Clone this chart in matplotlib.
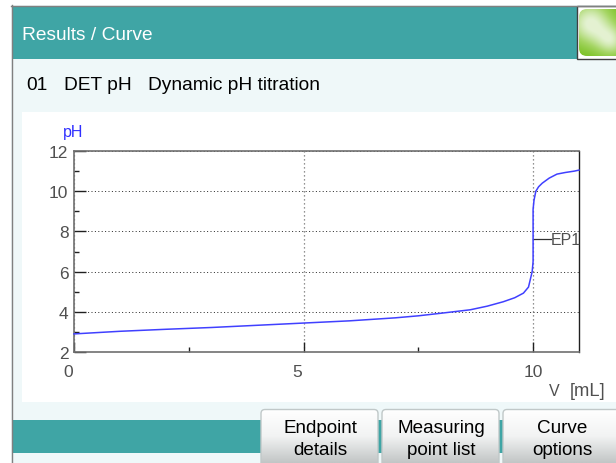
import matplotlib
matplotlib.use('Agg')
import matplotlib.pyplot as plt
from matplotlib.patches import Rectangle, FancyBboxPatch
from matplotlib.colors import LinearSegmentedColormap
from matplotlib.transforms import ScaledTranslation
import numpy as np

W, H = 616, 464

# curve
volume = [0, 1, 2, 3, 4, 5, 6, 7, 7.5, 8, 8.63, 9, 9.35, 9.6, 9.79, 9.9, 9.98, 10.0, 10.0, 10.02, 10.06, 10.12, 10.2, 10.35, 10.52, 10.7, 10.9, 11.0]
ph = [2.9, 3.03, 3.13, 3.22, 3.33, 3.44, 3.55, 3.7, 3.8, 3.93, 4.1, 4.28, 4.5, 4.7, 4.93, 5.23, 6.0, 6.5, 9.1, 9.55, 10.0, 10.22, 10.4, 10.65, 10.85, 10.93, 11.0, 11.05]
x_ticks = [0, 5, 10]
y_ticks = [2, 4, 6, 8, 10, 12]
buttons = [("Endpoint\ndetails", 261), ("Measuring\npoint list", 382), ("Curve\noptions", 503)]

TEAL = '#3fa5a5'
PALE = '#eff8f9'
GREY = '#808080'
BLUE = '#4040ff'
LABEL = '#505050'

plt.rcParams['font.family'] = ['Liberation Sans', 'DejaVu Sans']

fig = plt.figure(figsize=(W / 100, H / 100), dpi=100)
bg = fig.add_axes([0, 0, 1, 1])
bg.axis('off')

# window background and bars
bg.add_patch(Rectangle((11, 6), W - 11, H - 6, fc=PALE, ec='none'))
bg.plot([11.5, 11.5], [6, H], color=GREY, lw=1)
bg.plot([11, W], [6.5, 6.5], color=GREY, lw=1)
bg.add_patch(Rectangle((12, 7), W - 12, 53, fc=TEAL, ec='none'))
bg.add_patch(Rectangle((22, 113), W - 22, 290, fc='white', ec='none'))
bg.add_patch(Rectangle((12, 421), W - 12, 33, fc=TEAL, ec='none'))

bg.text(22, 35, "Results / Curve", color='white', fontsize=13.8, va='center')
bg.text(26, 86, "01", color='black', fontsize=13.8, va='center')
bg.text(64, 86, "DET pH", color='black', fontsize=13.8, va='center')
bg.text(148, 86, "Dynamic pH titration", color='black', fontsize=13.8, va='center')

# green status lamp
bg.add_patch(Rectangle((576.5, 7), 40, 53, fc='white', ec='#404040', lw=1))
gx, gy = np.meshgrid(np.linspace(579, 629, 100), np.linspace(10, 57, 94))
glow = np.exp(-((gx - 590) ** 2 + (gy - 24) ** 2) / 500) + 0.75 * np.exp(-((gx - 612) ** 2 + (gy - 42) ** 2) / 260)
lamp_cmap = LinearSegmentedColormap.from_list('lamp', ['#72bd18', '#a6d665', '#e4f2d2'])
lamp_box = FancyBboxPatch((579, 10), 50, 47, boxstyle='round,pad=0,rounding_size=8', fc='none', ec='none')
bg.add_patch(lamp_box)
lamp = bg.imshow(glow, extent=(579, 629, 57, 10), cmap=lamp_cmap, vmin=0, vmax=1, zorder=3, aspect='auto')
lamp.set_clip_path(lamp_box)

# buttons at the bottom
btn_cmap = LinearSegmentedColormap.from_list('btn', ['#ffffff', '#f2f3f3', '#c2c6c6'])
for label, bx in buttons:
    box = FancyBboxPatch((bx, 410.5), 117, 60, boxstyle='round,pad=0,rounding_size=4',
                         fc='none', ec='#c0c8c8', lw=1, zorder=4)
    bg.add_patch(box)
    im = bg.imshow(np.linspace(0, 1, 54)[:, None], extent=(bx, bx + 117, 464, 410), cmap=btn_cmap, zorder=3, aspect='auto')
    im.set_clip_path(box)
    bg.text(bx + 59, 439.5, label, color='black', fontsize=13.6, ha='center', va='center', linespacing=1.42, zorder=5)
bg.set_xlim(0, W)
bg.set_ylim(H, 0)

# titration curve
ax = fig.add_axes([74 / W, 1 - 353 / H, (579 - 74) / W, (353 - 152) / H])
ax.set_xlim(0, 11)
ax.set_ylim(2, 12)
ax.patch.set_alpha(0)
ax.xaxis.grid(True, color='#707070', linestyle=(0, (1, 2.2)), linewidth=0.9)
ax.yaxis.grid(True, color='#303030', linestyle=(0, (1, 2.4)), linewidth=0.72)
ax.set_xticks(x_ticks)
ax.set_yticks(y_ticks)
ax.set_xticks([2.5, 7.5], minor=True)
ax.set_yticks([3, 5, 7, 9, 11], minor=True)
ax.tick_params(axis='y', which='major', direction='in', length=8.6, width=1, color='#202020',
               labelsize=12.5, labelcolor=LABEL, pad=4)
ax.tick_params(axis='x', which='major', direction='in', length=7.2, width=1, color='#202020',
               labelsize=12.5, labelcolor=LABEL, pad=8.5)
ax.tick_params(axis='both', which='minor', direction='in', length=3.6, width=1, color='#202020')
for side in ['left', 'bottom', 'top']:
    ax.spines[side].set_color('#707070')
    ax.spines[side].set_linewidth(1.2)
ax.spines['right'].set_color('#202020')
ax.spines['right'].set_linewidth(1)
ax.plot(volume, ph, color=BLUE, lw=1.1, clip_on=False, zorder=3)

# the 0 and 5 labels sit left of their ticks in the original
shift = ScaledTranslation(-6 / 100, 0, fig.dpi_scale_trans)
for tick_label in ax.get_xticklabels()[:2]:
    tick_label.set_transform(tick_label.get_transform() + shift)

# endpoint marker
ax.plot([10, 10.39], [7.6, 7.6], color='#303030', lw=0.9, zorder=2)
ax.text(10.38, 7.6, "EP1", color=LABEL, fontsize=11.5, va='center', ha='left')

bg.text(63, 132.5, "pH", color='#3030ff', fontsize=11.5, va='center')
bg.text(554, 391.5, "V", color=LABEL, fontsize=11.5, va='center', ha='center')
bg.text(570, 391.5, "[mL]", color=LABEL, fontsize=13.2, va='center')

fig.savefig('out.png', dpi=100)
